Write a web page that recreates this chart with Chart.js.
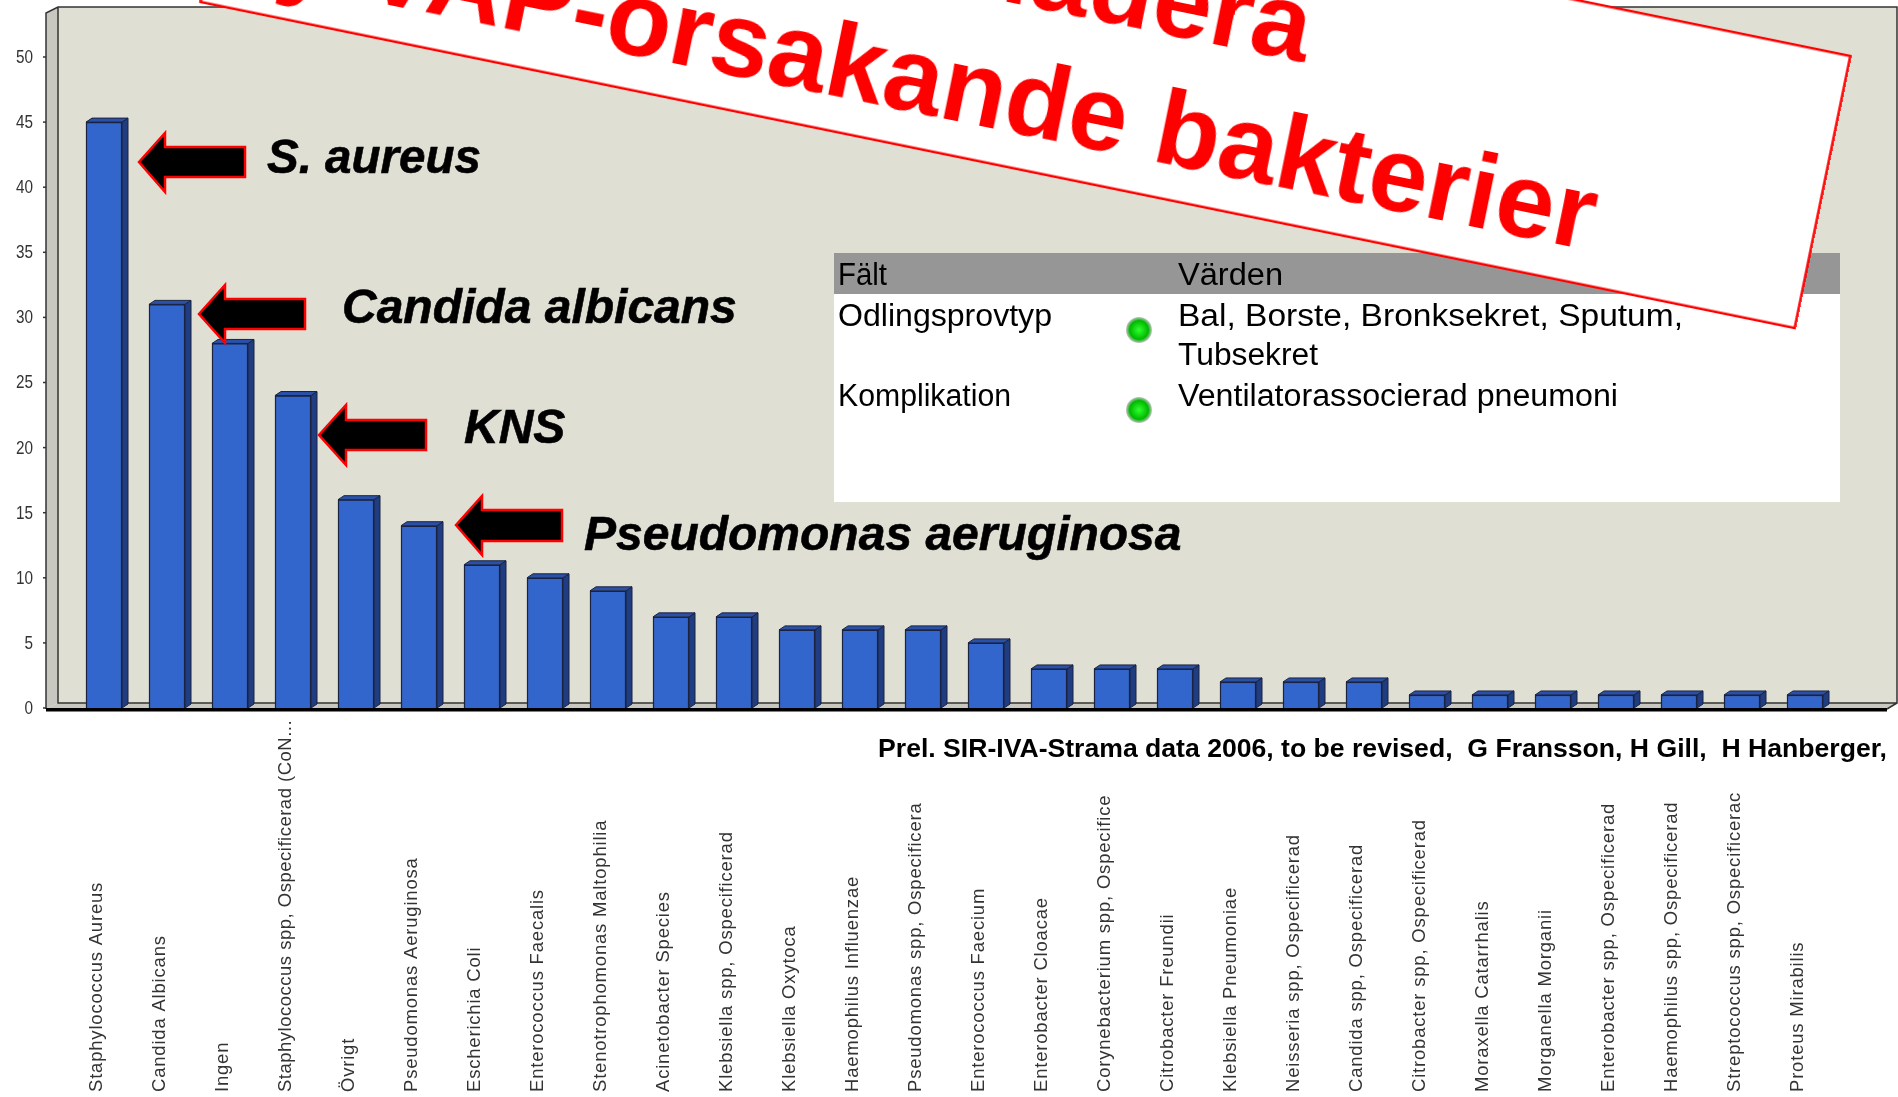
<!DOCTYPE html>
<html>
<head>
<meta charset="utf-8">
<title>VAP-orsakande bakterier</title>
<script src="https://cdn.jsdelivr.net/npm/chart.js@4"></script>
<style>
  html, body { margin: 0; padding: 0; background: #fff; overflow: hidden; }
  #wrap { position: relative; width: 1898px; height: 1097px; overflow: hidden; }
  canvas, svg { position: absolute; left: 0; top: 0; }
  .note { font: italic bold 48px "Liberation Sans"; fill: #000; stroke: #000; stroke-width: 0.6; }
  .cell { font: 31px "Liberation Sans"; fill: #000; }
  .head { font: bold 106px "Liberation Sans"; fill: #f00; }
</style>
</head>
<body>
<div id="wrap">
  <canvas id="chart" width="1898" height="1097"></canvas>
  <svg width="1898" height="1097">
    <defs>
      <radialGradient id="dot">
        <stop offset="0" stop-color="#30ff30"/>
        <stop offset="0.72" stop-color="#00b800"/>
        <stop offset="1" stop-color="#c4c4c4"/>
      </radialGradient>
    </defs>
    <!-- pilar -->
    <g fill="#000" stroke="#f00" stroke-width="2.5">
      <polygon points="139,162 165,133 165,147 245,147 245,177 165,177 165,192"/>
      <polygon points="199,314 225,285 225,299 305,299 305,329 225,329 225,343"/>
      <polygon points="319,435 346,405 346,420 426,420 426,450 346,450 346,465"/>
      <polygon points="456,525 482,496 482,510 562,510 562,541 482,541 482,555"/>
    </g>
    <text class="note" x="267" y="173" textLength="214" lengthAdjust="spacingAndGlyphs">S. aureus</text>
    <text class="note" x="342" y="323">Candida albicans</text>
    <text class="note" x="464" y="443">KNS</text>
    <text class="note" x="584" y="550">Pseudomonas aeruginosa</text>
    <!-- tabell -->
    <rect x="834" y="253" width="1006" height="249" fill="#fff"/>
    <rect x="834" y="253" width="1006" height="41" fill="#969696"/>
    <text class="cell" x="838" y="285" textLength="49" lengthAdjust="spacingAndGlyphs">Fält</text>
    <text class="cell" x="1178" y="285" textLength="105" lengthAdjust="spacingAndGlyphs">Värden</text>
    <text class="cell" x="838" y="326" textLength="214" lengthAdjust="spacingAndGlyphs">Odlingsprovtyp</text>
    <text class="cell" x="1178" y="326" textLength="505" lengthAdjust="spacingAndGlyphs">Bal, Borste, Bronksekret, Sputum,</text>
    <text class="cell" x="1178" y="365" textLength="140" lengthAdjust="spacingAndGlyphs">Tubsekret</text>
    <text class="cell" x="838" y="406" textLength="173" lengthAdjust="spacingAndGlyphs">Komplikation</text>
    <text class="cell" x="1178" y="406" textLength="440" lengthAdjust="spacingAndGlyphs">Ventilatorassocierad pneumoni</text>
    <circle cx="1139" cy="330" r="13" fill="url(#dot)"/>
    <circle cx="1139" cy="410" r="13" fill="url(#dot)"/>
    <!-- rubrikskylt -->
    <g transform="translate(1025.5 29) rotate(11.56)">
      <rect x="-813.5" y="-138.8" width="1627" height="277.6" fill="#fff" stroke="#f00" stroke-width="2.5"/>
      <text class="head" x="279.5" y="-23.5" text-anchor="end">uadera</text>
      <text class="head" x="596" y="104" text-anchor="end">y VAP-orsakande bakterier</text>
    </g>
    <text x="1887" y="757" text-anchor="end" xml:space="preserve" style="font: bold 26.6px 'Liberation Sans'; fill:#000">Prel. SIR-IVA-Strama data 2006, to be revised,  G Fransson, H Gill,  H Hanberger,</text>
  </svg>
</div>
<script>
  const bacteria = [
    'Staphylococcus Aureus', 'Candida Albicans', 'Ingen',
    'Staphylococcus spp, Ospecificerad (CoN...', 'Övrigt', 'Pseudomonas Aeruginosa',
    'Escherichia Coli', 'Enterococcus Faecalis', 'Stenotrophomonas Maltophilia',
    'Acinetobacter Species', 'Klebsiella spp, Ospecificerad', 'Klebsiella Oxytoca',
    'Haemophilus Influenzae', 'Pseudomonas spp, Ospecificera', 'Enterococcus Faecium',
    'Enterobacter Cloacae', 'Corynebacterium spp, Ospecifice', 'Citrobacter Freundii',
    'Klebsiella Pneumoniae', 'Neisseria spp, Ospecificerad', 'Candida spp, Ospecificerad',
    'Citrobacter spp, Ospecificerad', 'Moraxella Catarrhalis', 'Morganella Morganii',
    'Enterobacter spp, Ospecificerad', 'Haemophilus spp, Ospecificerad',
    'Streptococcus spp, Ospecificerac', 'Proteus Mirabilis'
  ];
  const counts = [45, 31, 28, 24, 16, 14, 11, 10, 9, 7, 7, 6, 6, 6, 5, 3, 3, 3, 2, 2, 2, 1, 1, 1, 1, 1, 1, 1];

  function poly(ctx, pts, fill) {
    ctx.beginPath();
    pts.forEach((p, i) => i ? ctx.lineTo(p[0], p[1]) : ctx.moveTo(p[0], p[1]));
    ctx.closePath();
    ctx.fillStyle = fill;
    ctx.fill();
  }

  // 3D-lådan bakom staplarna
  const box = {
    id: 'box',
    beforeDatasetsDraw(chart) {
      const ctx = chart.ctx;
      const y = chart.scales.y;
      const y0 = y.getPixelForValue(0);
      ctx.save();
      poly(ctx, [[58, 7], [1897, 7], [1897, y0 - 5], [58, y0 - 5]], '#dfdfd3');
      poly(ctx, [[46, 13], [58, 7], [58, y0 - 5], [46, y0 + 1]], '#c8c8c0');
      poly(ctx, [[46, y0 + 1], [58, y0 - 5], [1897, y0 - 5], [1887, y0 + 1]], '#c8c8c0');
      ctx.strokeStyle = '#333';
      ctx.lineWidth = 1.5;
      ctx.beginPath();
      ctx.moveTo(46, y0 + 1);
      ctx.lineTo(46, 13);
      ctx.lineTo(58, 7);
      ctx.lineTo(1897, 7);
      ctx.lineTo(1897, y0 - 5);
      ctx.lineTo(58, y0 - 5);
      ctx.lineTo(58, 7);
      ctx.moveTo(1897, y0 - 5);
      ctx.lineTo(1887, y0 + 1);
      ctx.stroke();
      // ticks och smala y-etiketter
      ctx.font = '18px "Liberation Sans"';
      ctx.fillStyle = '#333';
      ctx.textAlign = 'right';
      ctx.textBaseline = 'middle';
      y.ticks.forEach(t => {
        const py = y.getPixelForValue(t.value);
        ctx.beginPath();
        ctx.moveTo(43, py);
        ctx.lineTo(46, py);
        ctx.stroke();
        ctx.save();
        ctx.translate(33, py + 1);
        ctx.scale(0.85, 1);
        ctx.fillText(String(t.value), 0, 0);
        ctx.restore();
      });
      ctx.restore();
    },
    afterDatasetsDraw(chart) {
      const ctx = chart.ctx;
      const dx = 6, dy = 4;
      const y0 = chart.scales.y.getPixelForValue(0);
      ctx.save();
      ctx.lineWidth = 1;
      ctx.strokeStyle = '#1a2340';
      chart.getDatasetMeta(0).data.forEach(bar => {
        const r = bar.x + bar.width / 2, l = bar.x - bar.width / 2;
        const side = [[r, bar.y], [r + dx, bar.y - dy], [r + dx, y0 - dy], [r, y0]];
        const top = [[l, bar.y], [l + dx, bar.y - dy], [r + dx, bar.y - dy], [r, bar.y]];
        poly(ctx, side, '#1f3d80');
        ctx.stroke();
        poly(ctx, top, '#2a50a8');
        ctx.stroke();
      });
      // golvlinje
      ctx.fillStyle = '#000';
      ctx.fillRect(46, y0, 1841, 3.5);
      // kategorietiketter, start nertill
      const x = chart.scales.x;
      ctx.font = '18.5px "Liberation Sans"';
      ctx.fillStyle = '#333';
      ctx.textAlign = 'left';
      ctx.textBaseline = 'middle';
      bacteria.forEach((name, i) => {
        ctx.save();
        ctx.letterSpacing = name.length > 35 ? '0.5px' : '0.8px';
        ctx.translate(x.getPixelForValue(i) - 7, 1092);
        ctx.rotate(-Math.PI / 2);
        ctx.fillText(name, 0, 0);
        ctx.restore();
      });
      ctx.restore();
    }
  };

  new Chart(document.getElementById('chart').getContext('2d'), {
    type: 'bar',
    data: {
      labels: bacteria,
      datasets: [{
        data: counts,
        backgroundColor: '#3366cc',
        borderColor: '#1a2340',
        borderWidth: 1.5,
        barThickness: 36
      }]
    },
    options: {
      responsive: false,
      animation: false,
      layout: { padding: { top: 57, bottom: 389, right: 61.5 } },
      plugins: { legend: { display: false }, tooltip: { enabled: false } },
      scales: {
        x: {
          afterFit: s => { s.height = 0; },
          grid: { display: false, drawTicks: false },
          border: { display: false },
          ticks: { display: false }
        },
        y: {
          min: 0,
          max: 50,
          afterFit: s => { s.width = 72.5; },
          grid: { display: false, drawTicks: false },
          border: { display: false },
          ticks: { display: false, stepSize: 5 }
        }
      }
    },
    plugins: [box]
  });
</script>
</body>
</html>
